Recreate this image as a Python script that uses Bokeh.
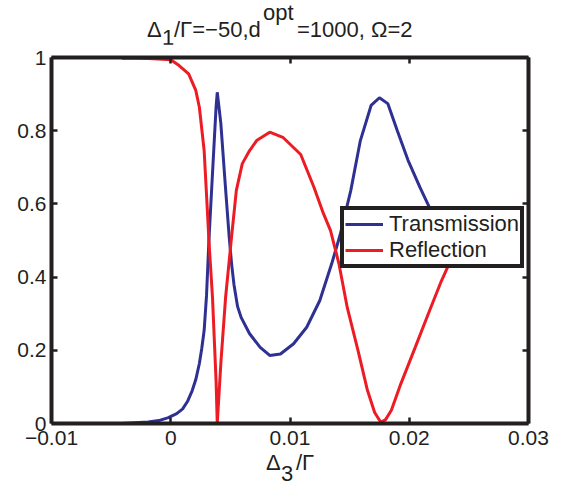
from bokeh.plotting import figure
from bokeh.models import FixedTicker, LinearAxis, CustomJSTickFormatter, Div
from bokeh.layouts import column
from bokeh.embed import file_html
from bokeh.resources import INLINE

# ---- data ----
trans_x = [-0.0041, -0.0030, -0.0019, -0.0010, -0.0002, 0.0005, 0.0010, 0.0014, 0.0018,
           0.0021, 0.0024, 0.0026, 0.0028, 0.0030, 0.0032, 0.0035, 0.0038, 0.0039,
           0.0042, 0.0046, 0.0049, 0.0051, 0.0053, 0.0056, 0.0059, 0.0066, 0.0075,
           0.0083, 0.0092, 0.0103, 0.0114, 0.0125, 0.0135, 0.0142, 0.0151, 0.0159,
           0.0168, 0.0175, 0.0182, 0.0190, 0.0199, 0.0209, 0.0217, 0.0226, 0.0234]
trans_y = [0.000, 0.002, 0.004, 0.008, 0.016, 0.027, 0.040, 0.060, 0.090,
           0.120, 0.164, 0.205, 0.254, 0.350, 0.500, 0.683, 0.864, 0.905,
           0.820, 0.640, 0.510, 0.437, 0.380, 0.320, 0.290, 0.246, 0.208,
           0.186, 0.190, 0.218, 0.263, 0.336, 0.437, 0.515, 0.637, 0.773,
           0.869, 0.890, 0.874, 0.800, 0.719, 0.645, 0.590, 0.530, 0.480]

refl_x = [-0.0041, -0.0030, -0.0019, -0.0010, 0.0000, 0.0007, 0.0015, 0.0021, 0.0024,
          0.0028, 0.0031, 0.0032, 0.0035, 0.0038, 0.0039, 0.0042, 0.0046, 0.0051,
          0.0055, 0.0060, 0.0066, 0.0072, 0.0083, 0.0094, 0.0109, 0.0120, 0.0128,
          0.0134, 0.0141, 0.0148, 0.0157, 0.0165, 0.0171, 0.0176, 0.0180, 0.0185,
          0.0193, 0.0205, 0.0216, 0.0227, 0.0234]
refl_y = [0.998, 0.998, 0.997, 0.996, 0.994, 0.978, 0.955, 0.910, 0.864,
          0.746, 0.564, 0.500, 0.345, 0.117, 0.000, 0.164, 0.345, 0.510,
          0.637, 0.710, 0.745, 0.773, 0.796, 0.782, 0.735, 0.646, 0.574,
          0.527, 0.437, 0.317, 0.200, 0.090, 0.030, 0.004, 0.010, 0.036,
          0.109, 0.208, 0.300, 0.390, 0.440]

x_ticks = [-0.01, 0.0, 0.01, 0.02, 0.03]
x_tick_labels = ["\u22120.01", "0", "0.01", "0.02", "0.03"]
y_ticks = [0.0, 0.2, 0.4, 0.6, 0.8, 1.0]
y_tick_labels = ["0", "0.2", "0.4", "0.6", "0.8", "1"]

series_names = ["Transmission", "Reflection"]
BLUE = "#2e3192"
RED = "#ed1c24"
INK = "#231f20"
FONT = "Liberation Sans"
W = 560

p = figure(width=W, height=410, x_range=(-0.01, 0.03), y_range=(0, 1),
           output_backend="svg", toolbar_location=None,
           min_border_left=51, min_border_top=13, min_border_right=32, min_border_bottom=31)
p.xgrid.visible = False
p.ygrid.visible = False
p.outline_line_color = None
p.background_fill_color = "white"
p.border_fill_color = "white"

p.line(trans_x, trans_y, line_color=BLUE, line_width=3, legend_label=series_names[0])
p.line(refl_x, refl_y, line_color=RED, line_width=3, legend_label=series_names[1])


def style_axis(ax):
    ax.axis_line_width = 4
    ax.axis_line_color = INK
    ax.major_tick_line_color = INK
    ax.major_tick_line_width = 2.5
    ax.major_tick_in = 6
    ax.major_tick_out = 0
    ax.minor_tick_line_color = None
    ax.major_label_text_font = FONT
    ax.major_label_text_font_size = "21px"
    ax.major_label_text_color = INK


p.xaxis.ticker = FixedTicker(ticks=x_ticks)
p.xaxis.major_label_overrides = {t: l for t, l in zip(x_ticks, x_tick_labels)}
p.yaxis.ticker = FixedTicker(ticks=y_ticks)
p.yaxis.major_label_overrides = {t: l for t, l in zip(y_ticks, y_tick_labels)}
style_axis(p.xaxis[0])
style_axis(p.yaxis[0])
p.xaxis.major_label_standoff = 7
p.yaxis.major_label_standoff = 5

empty = CustomJSTickFormatter(code="return ''")
top = LinearAxis(ticker=FixedTicker(ticks=x_ticks), formatter=empty)
right = LinearAxis(ticker=FixedTicker(ticks=y_ticks), formatter=empty)
for ax in (top, right):
    style_axis(ax)
    ax.major_label_standoff = 0
    ax.major_label_text_font_size = "0px"
p.add_layout(top, "above")
p.add_layout(right, "right")

lg = p.legend[0]
lg.location = (289, 155)
lg.label_text_font = FONT
lg.label_text_font_size = "22px"
lg.label_text_color = INK
lg.glyph_width = 38
lg.glyph_height = 24
lg.label_height = 24
lg.label_standoff = 6
lg.padding = 1
lg.spacing = 0
lg.margin = 0
lg.border_line_color = INK
lg.border_line_alpha = 1.0
lg.border_line_width = 4
lg.background_fill_color = "white"
lg.background_fill_alpha = 1.0


def span(txt, left, top, lh=22):
    return (f'<span style="position:absolute;left:{left}px;top:{top}px;'
            f'white-space:nowrap;line-height:{lh}px;">{txt}</span>')


BOX = (f'<div style="position:relative;width:{W}px;height:{{h}}px;font-family:\'{FONT}\';'
       f'font-size:22px;color:{INK};">{{body}}</div>')

# title: Δ1/Γ=−50,d^opt=1000, Ω=2
title_body = (span("\u0394", 147, 19) + span("1", 162, 27) + span("/\u0393=\u221250,d", 174, 19)
              + span("opt", 263, 2) + span("=1000, \u03a9=2", 297, 19))
title_div = Div(text=BOX.format(h=44, body=title_body), width=W, height=44, margin=0,
                styles={"overflow": "visible"})

# x label: Δ3/Γ
xl_body = span("\u0394", 266, -2) + span("3", 281, 9) + span("/\u0393", 296, -2)
xlabel_div = Div(text=BOX.format(h=31, body=xl_body), width=W, height=31, margin=0,
                 styles={"overflow": "visible"})

layout = column(title_div, p, xlabel_div, spacing=0)
open("out.html", "w").write(file_html(layout, INLINE))
